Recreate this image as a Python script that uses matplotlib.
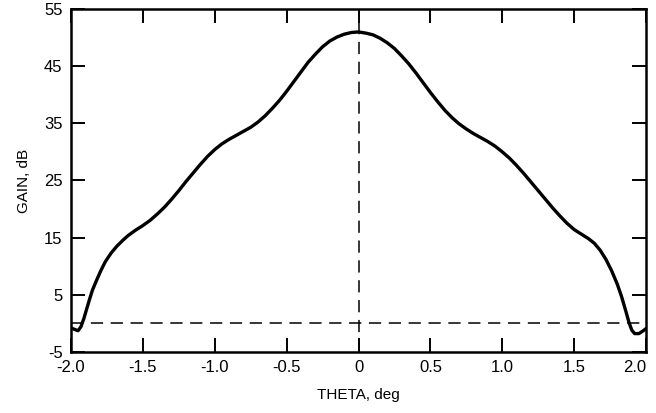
import matplotlib
matplotlib.use("Agg")
import matplotlib.pyplot as plt

plt.rcParams['font.family'] = ['Liberation Sans', 'DejaVu Sans']
plt.rcParams['axes.unicode_minus'] = False

# antenna pattern
theta = [-2.00, -1.98, -1.95, -1.93, -1.91, -1.89, -1.87, -1.85, -1.82, -1.79,
         -1.76, -1.72, -1.68, -1.64, -1.60, -1.55, -1.50, -1.45, -1.40, -1.35,
         -1.30, -1.25, -1.20, -1.15, -1.10, -1.05, -1.00, -0.95, -0.90, -0.85,
         -0.80, -0.75, -0.70, -0.65, -0.60, -0.55, -0.50, -0.45, -0.40, -0.35,
         -0.30, -0.25, -0.20, -0.15, -0.10, -0.05, 0.00,
         0.05, 0.10, 0.15, 0.20, 0.25, 0.30, 0.35, 0.40, 0.45, 0.50,
         0.55, 0.60, 0.65, 0.70, 0.75, 0.80, 0.85, 0.90, 0.95, 1.00,
         1.05, 1.10, 1.15, 1.20, 1.25, 1.30, 1.35, 1.40, 1.45, 1.50,
         1.55, 1.60, 1.64, 1.68, 1.72, 1.76, 1.80, 1.83, 1.86, 1.88,
         1.90, 1.92, 1.95, 1.98, 2.00]
gain = [-0.8, -1.0, -1.3, -0.6, 0.8, 2.5, 4.2, 5.8, 7.6, 9.3,
        10.8, 12.3, 13.5, 14.5, 15.4, 16.3, 17.1, 18.0, 19.1, 20.3,
        21.7, 23.2, 24.8, 26.3, 27.8, 29.2, 30.4, 31.4, 32.2, 32.9,
        33.6, 34.3, 35.2, 36.3, 37.6, 39.0, 40.6, 42.3, 44.0, 45.7,
        47.1, 48.4, 49.4, 50.1, 50.6, 50.9, 51.0,
        50.8, 50.5, 49.9, 49.1, 48.1, 46.8, 45.4, 43.8, 42.1, 40.4,
        38.8, 37.3, 36.0, 34.9, 34.0, 33.2, 32.5, 31.8, 31.0, 30.0,
        28.9, 27.6, 26.2, 24.7, 23.2, 21.7, 20.2, 18.8, 17.5, 16.4,
        15.6, 14.8, 14.0, 12.8, 11.2, 9.2, 6.8, 4.6, 2.0, 0.2,
        -1.2, -1.8, -1.8, -1.3, -0.9]

xticks = [-2.0, -1.5, -1.0, -0.5, 0, 0.5, 1.0, 1.5, 2.0]
xlabels = ['-2.0', '-1.5', '-1.0', '-0.5', '0', '0.5', '1.0', '1.5', '2.0']
yticks = [-5, 5, 15, 25, 35, 45, 55]

fig = plt.figure(figsize=(6.56, 4.13), dpi=100)
ax = fig.add_axes([0.108, 0.148, 0.877, 0.830])

ax.plot(theta, gain, color='black', linewidth=2.4,
        solid_capstyle='round', solid_joinstyle='round')
ax.axhline(0, color='black', linewidth=1.1, dashes=(8, 5))
ax.axvline(0, color='black', linewidth=1.1, dashes=(8, 5))

ax.set_xlim(-2.0, 2.0)
ax.set_ylim(-5, 55)
ax.set_xticks(xticks)
ax.set_xticklabels(xlabels)
ax.set_yticks(yticks)

ax.tick_params(direction='in', length=10, width=1.4, top=True, right=True,
               labelsize=12, pad=6)
for s in ax.spines.values():
    s.set_linewidth(1.8)

# last label kept inside the frame like in the original
ax.get_xticklabels()[-1].set_horizontalalignment('right')

ax.set_xlabel('THETA, deg', fontsize=11, labelpad=9)
ax.set_ylabel('GAIN, dB', fontsize=11, labelpad=9)

fig.savefig('out.png', dpi=100)
